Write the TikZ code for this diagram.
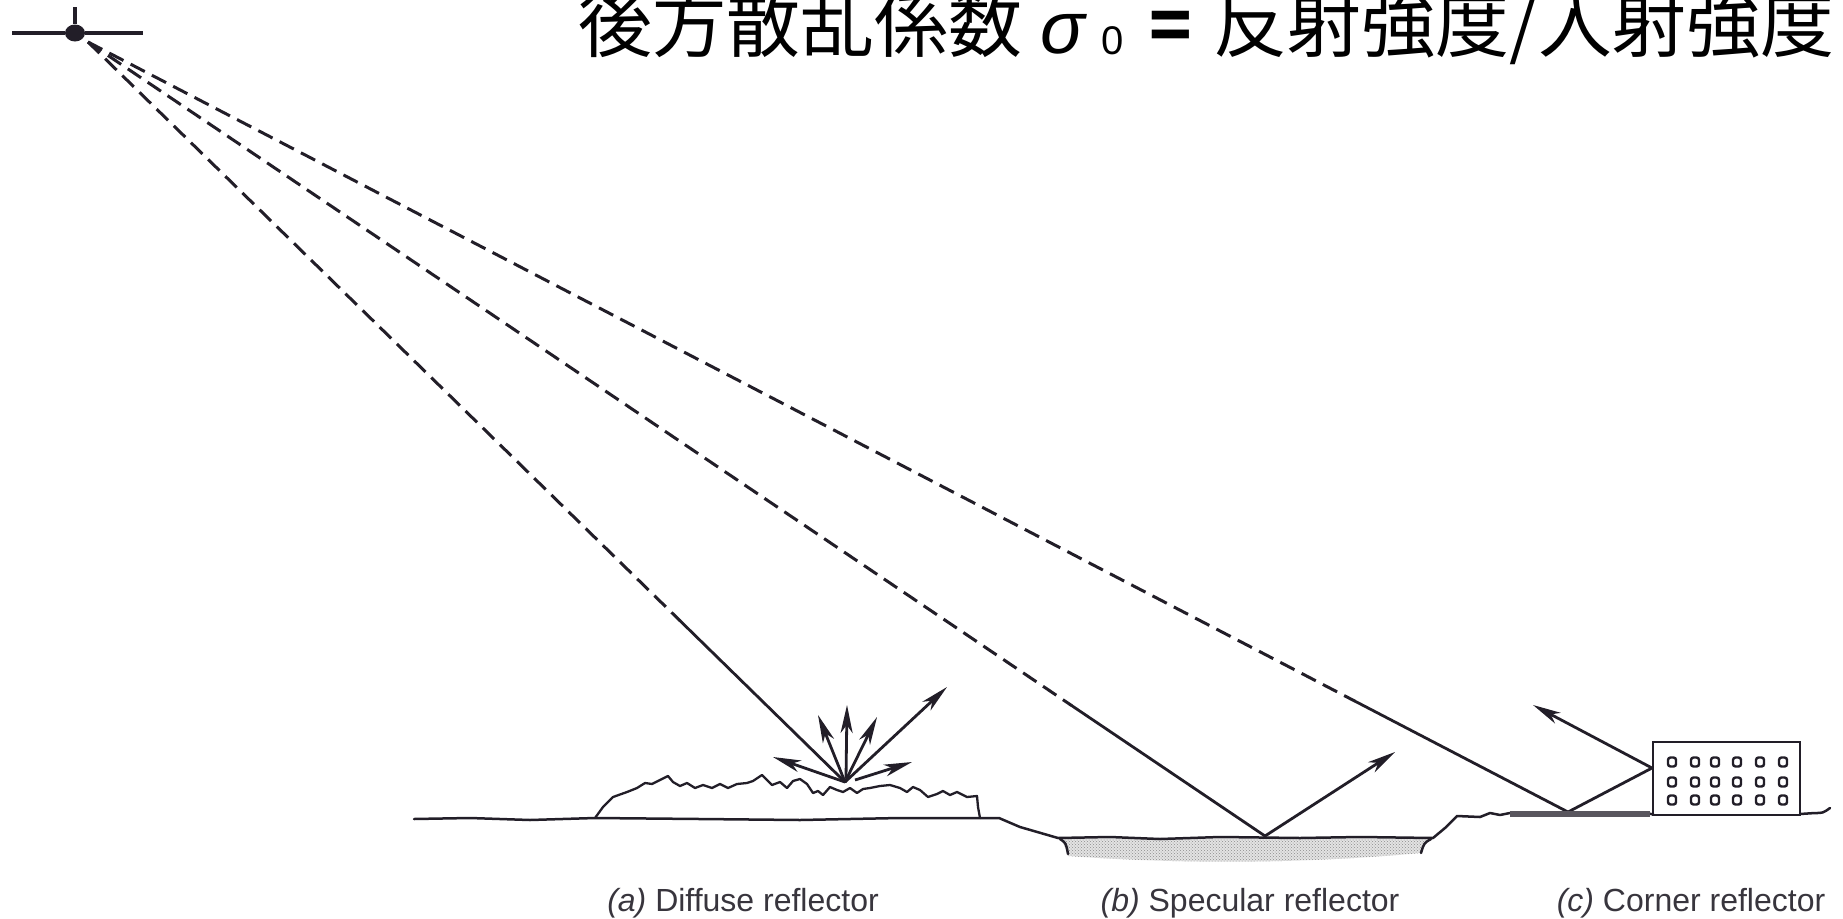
\documentclass[tikz,border=0pt]{standalone}
\usepackage{fontspec}
\usetikzlibrary{arrows.meta,calc,patterns,shapes.geometric}
\newfontfamily\cjk{Noto Sans CJK JP}
\newfontfamily\labelfont{Liberation Sans}
\definecolor{ink}{RGB}{34,30,40}

\tikzset{
  beam/.style={ink, line width=3pt, dash pattern=on 16pt off 8pt},
  ray/.style={ink, line width=2.8pt, line cap=round},
  arr/.style={ink, line width=2.8pt, -{Stealth[length=28pt,width=12pt,inset=8pt]}},
  groundline/.style={ink, line width=2.5pt, line join=round, line cap=round},
  window/.style={draw=ink, line width=2.4pt, rounded corners=2.5pt, minimum width=8pt, minimum height=9pt, inner sep=0pt},
  caption/.style={anchor=base, inner sep=0pt, text=ink!90, font=\labelfont\fontsize{32}{36}\selectfont},
  titlecjk/.style={anchor=base west, inner sep=0pt, font=\cjk\fontsize{74}{80}\selectfont},
}

\begin{document}
\begin{tikzpicture}[x=1pt,y=-1pt]
\useasboundingbox (0,0) rectangle (1843,918);

% title
\node[titlecjk] (t1) at (578,51) {後方散乱係数};
\node[anchor=base west, inner sep=0pt, font=\labelfont\itshape\fontsize{74}{80}\selectfont] (sig) at (1040,53) {σ};
\node[anchor=base west, inner sep=0pt, font=\labelfont\fontsize{40}{42}\selectfont] (sub) at (1101,54) {0};
\node[anchor=base west, inner sep=0pt, font=\cjk\bfseries\fontsize{70}{80}\selectfont] (eq) at (1149,51) {=};
\node[titlecjk] (t2) at (1213,51) {反射強度/入射強度};

% satellite
\coordinate (sat) at (88,42);
\node[ellipse, fill=ink, inner sep=0pt, minimum width=20pt, minimum height=17pt] (body) at (75,33) {};
\draw[ink, line width=4pt] (12,33) -- (body.west);
\draw[ink, line width=4pt] (body.east) -- (143,33);
\draw[ink, line width=4pt] (75,7) -- (body.north);

% reflection points
\coordinate (hitA) at (845,782);
\coordinate (hitB) at (1265,836);
\coordinate (hitC) at (1568,812);
\coordinate (wallC) at (1652,768);

% transition from dashed to solid
\coordinate (tA) at ($(sat)!0.782!(hitA)$);
\coordinate (tB) at ($(sat)!0.836!(hitB)$);
\coordinate (tC) at ($(sat)!0.856!(hitC)$);

\draw[beam] (sat) -- (tA);
\draw[beam] (sat) -- (tB);
\draw[beam] (sat) -- (tC);
\draw[ray] (tA) -- (hitA);
\draw[ray] (tB) -- (hitB);
\draw[ray] (tC) -- (hitC) -- (wallC);

% ground with the pool
\fill[gray!22]
  (1062,839) -- (1428,839) -- (1421,853) .. controls (1300,864) and (1180,864) .. (1068,856) -- cycle;
\fill[pattern=crosshatch dots, pattern color=gray!90]
  (1062,839) -- (1428,839) -- (1421,853) .. controls (1300,864) and (1180,864) .. (1068,856) -- cycle;
\draw[groundline] (414,819) -- (470,818) -- (530,820) -- (595,818) -- (700,819)
  -- (800,820) -- (900,818) -- (999,818) -- (1020,827) -- (1058,838)
  -- (1110,837) -- (1160,839) -- (1220,837) -- (1300,838) -- (1360,837) -- (1433,838)
  -- (1445,828) -- (1457,816) -- (1480,817) -- (1490,813) -- (1500,815) -- (1510,813)
  -- (1653,814);
\draw[groundline] (1060,839) .. controls (1066,843) .. (1068,854);
\draw[groundline] (1431,839) .. controls (1424,843) .. (1421,853);
\fill[ink!75] (1510,811) rectangle (1650,817);

% rough vegetation
\draw[groundline, line width=2.3pt] (595,818) -- (603,807) -- (613,797) -- (627,792) -- (637,788)
  -- (645,783) -- (652,784) -- (660,780) -- (668,776) -- (673,782) -- (680,786) -- (687,783)
  -- (695,788) -- (703,785) -- (712,788) -- (720,784) -- (728,788) -- (737,784) -- (747,783)
  -- (753,781) -- (762,775) -- (767,780) -- (772,785) -- (780,782) -- (787,788) -- (793,781)
  -- (800,779) -- (807,784) -- (813,793) -- (818,791) -- (823,795) -- (830,787) -- (837,790)
  -- (843,792) -- (850,788) -- (857,793) -- (863,789) -- (870,788) -- (880,786) -- (890,785)
  -- (900,788) -- (907,792) -- (913,787) -- (920,790) -- (928,797) -- (937,794) -- (943,791)
  -- (950,795) -- (957,792) -- (967,797) -- (977,796) -- (978,807) -- (980,818);

% diffuse scattering
\draw[arr] (hitA) -- (947,687);
\draw[arr] (846,778) -- (847,705);
\draw[arr] (hitA) -- (818,715);
\draw[arr] (hitA) -- (877,717);
\draw[arr] (hitA) -- (773,757);
\draw[arr] (855,780) -- (912,762);

% specular reflection
\draw[arr] (hitB) -- (1395,752);

% corner reflector: building
\draw[ink, line width=2.5pt] (1653,742) rectangle (1800,815);
\foreach \wx in {1672,1695,1715,1737,1760,1783}
  \foreach \wy in {762,782,800}
    \node[window] at (\wx,\wy) {};
\draw[groundline] (1800,814) -- (1815,813) .. controls (1823,813) .. (1830,808);
\draw[arr] (wallC) -- (1533,705);

% captions
\node[caption] (capA) at (743,911) {\itshape(a)\upshape\ Diffuse reflector};
\node[caption] (capB) at (1250,911) {\itshape(b)\upshape\ Specular reflector};
\node[caption] (capC) at (1691,911) {\itshape(c)\upshape\ Corner reflector};
\end{tikzpicture}
\end{document}
